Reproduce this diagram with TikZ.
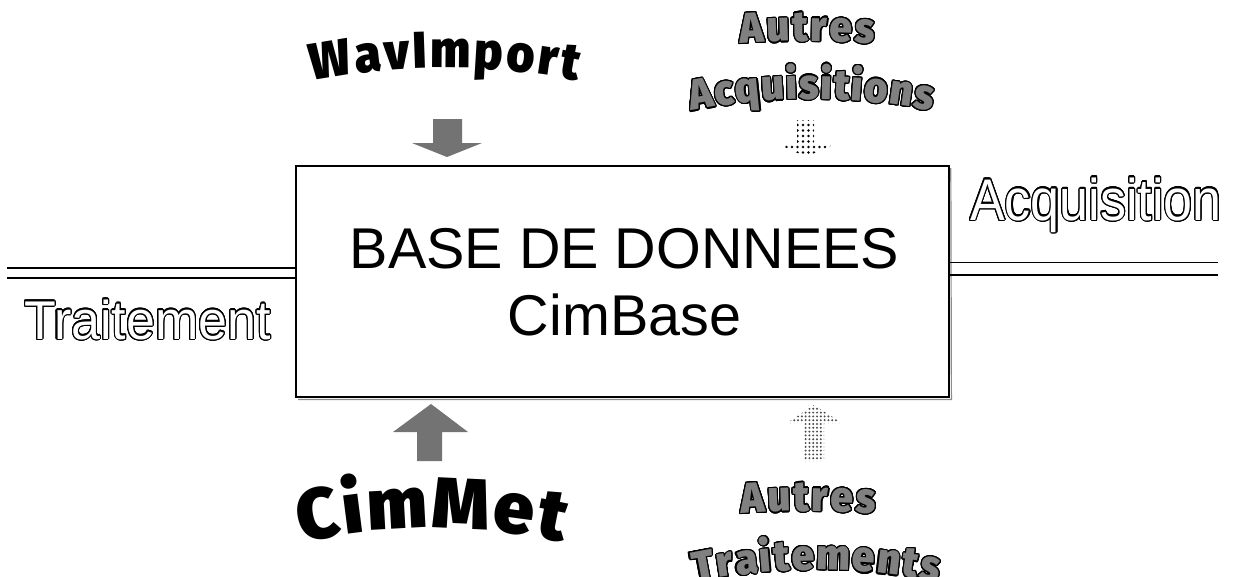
\documentclass[tikz,border=0pt]{standalone}
\usepackage{fontspec}
\setmainfont{Liberation Sans}
\newfontfamily\heavy{Fira Sans}[UprightFont=* Black]
\usepackage[copies]{contour}
\contourlength{1.1pt}
\contournumber{24}
\usetikzlibrary{patterns.meta}
\newlength\awlen
\newcommand\plainlet[1]{#1}
\newcommand\grayout[1]{\contour{black}{\textcolor{black!50}{#1}}}
\newcommand\hollow[1]{\contour{black}{\textcolor{white}{#1}}}
% measure letters of a word: #1 prefix, #2 font, #3 letters
\newcommand\measureword[3]{%
  \begingroup#2%
  \gdef\awtot{0}%
  \foreach \ch [count=\i] in {#3}{%
    \settowidth\awlen{\ch}%
    \expandafter\xdef\csname aw#1w\i\endcsname{\the\awlen}%
    \pgfmathsetmacro\awt{\awtot+\awlen}%
    \global\let\awtot\awt
    \expandafter\xdef\csname aw#1n\endcsname{\i}}%
  \expandafter\xdef\csname aw#1tot\endcsname{\awtot}%
  \endgroup}
% #1 cx, #2 baseline y at arc top, #3 radius, #4 font, #5 letters,
% #6 letter command, #7 name prefix, #8 extra node options, #9 tracking
\newcommand\arcword[9]{%
  \gdef\awpos{0}%
  \pgfmathsetmacro\awfull{\csname aw#7tot\endcsname+(\csname aw#7n\endcsname-1)*(#9)}%
  \global\let\awfull\awfull
  \foreach \ch [count=\i] in {#5}{%
    \pgfmathsetmacro\awl{\csname aw#7w\i\endcsname}%
    \pgfmathsetmacro\aws{\awpos+\awl/2-\awfull/2}%
    \pgfmathsetmacro\awphi{\aws/(#3)*180/pi}%
    \pgfmathsetmacro\awp{\awpos+\awl+(#9)}%
    \global\let\awpos\awp
    \node[anchor=base,inner sep=0pt,outer sep=0pt,font=#4,rotate=-\awphi,#8] (#7\i)
      at ({#1+(#3)*sin(\awphi)},{#2+(#3)-(#3)*cos(\awphi)}) {#6{\ch}};
  }%
}
\newcommand\fwav{\heavy\fontsize{48}{56}\selectfont}
\newcommand\fcim{\heavy\fontsize{72}{80}\selectfont}
\newcommand\faut{\heavy\fontsize{40}{48}\selectfont}
\AtBeginDocument{%
  \measureword{wav}{\fwav}{W,a,v,I,m,p,o,r,t}%
  \measureword{cim}{\fcim}{C,i,m,M,e,t}%
  \measureword{aa}{\faut}{A,u,t,r,e,s}%
  \measureword{acq}{\faut}{A,c,q,u,i,s,i,t,i,o,n,s}%
  \measureword{at}{\faut}{A,u,t,r,e,s}%
  \measureword{trs}{\faut}{T,r,a,i,t,e,m,e,n,t,s}%
}
\tikzset{
  dbline/.style={line width=1.3pt},
  solidarrow/.style={fill=black!55,draw=none},
  bigtext/.style={anchor=base,inner sep=0pt,font=\fontsize{57.5}{66}\selectfont},
  hollowtext/.style={anchor=base,inner sep=0pt,font=\fontsize{52}{60}\selectfont}
}
\begin{document}
\begin{tikzpicture}[x=1pt,y=-1pt]
\useasboundingbox (0,0) rectangle (1233,576);
\fill[white] (0,0) rectangle (1233,576);

% main box
\node[draw,line width=1.6pt,minimum width=653pt,minimum height=231pt,inner sep=0pt] (db) at (622.5,281.5) {};
\draw[black!45,line width=1.2pt] ([xshift=1pt,yshift=-3pt]db.north east) -- ([xshift=1.6pt,yshift=-1.6pt]db.south east) -- ([xshift=3pt,yshift=-1.6pt]db.south west);
\node[bigtext] (t1) at (624.5,268) {BASE DE DONNEES};
\node[bigtext] (t2) at (624.5,335) {CimBase};

% double lines
\coordinate (la) at (7,268); \coordinate (lb) at (7,278);
\coordinate (ra) at (1218,262.5); \coordinate (rb) at (1218,275);
\draw[dbline] (la) -- (la -| db.west);
\draw[dbline] (lb) -- (lb -| db.west);
\draw[dbline] (ra) -- (ra -| db.east);
\draw[dbline] (rb) -- (rb -| db.east);

% hollow labels
\node[hollowtext,yscale=1.05] (trt) at (147.5,339) {\hollow{Traitement}};
\node[hollowtext,yscale=1.13] (acq) at (1096,220) {\hollow{Acquisition}};

% block arrows
\fill[solidarrow] (433,119) -- (462,119) -- (462,143) -- (482,143) -- (447,157) -- (412,143) -- (433,143) -- cycle;
\fill[pattern={Dots[distance=5.5pt,radius=1.3pt]},pattern color=black] (797,120) -- (814,120) -- (814,144) -- (835,144) -- (806,157) -- (778,144) -- (797,144) -- cycle;
\fill[solidarrow] (431,404) -- (468,432) -- (442,432) -- (442,461) -- (417,461) -- (417,432) -- (393,432) -- cycle;
\fill[pattern={Dots[distance=3.8pt,radius=1.1pt]},pattern color=black!70] (814,405) -- (842,423) -- (824,423) -- (824,461) -- (804,461) -- (804,423) -- (787,423) -- cycle;

% arched word art
\arcword{445}{68}{700}{\fwav}{W,a,v,I,m,p,o,r,t}{\plainlet}{wav}{yscale=1.08}{3}
\arcword{432}{528}{600}{\fcim}{C,i,m,M,e,t}{\plainlet}{cim}{}{3}
\arcword{807.5}{41}{900}{\faut}{A,u,t,r,e,s}{\grayout}{aa}{yscale=1.07}{2.5}
\arcword{811.5}{99}{610}{\faut}{A,c,q,u,i,s,i,t,i,o,n,s}{\grayout}{acq}{yscale=1.07}{1.5}
\arcword{808.5}{511}{900}{\faut}{A,u,t,r,e,s}{\grayout}{at}{yscale=1.07}{2.5}
\arcword{816.5}{570}{600}{\faut}{T,r,a,i,t,e,m,e,n,t,s}{\grayout}{trs}{yscale=1.07}{2}
\end{tikzpicture}
\end{document}
